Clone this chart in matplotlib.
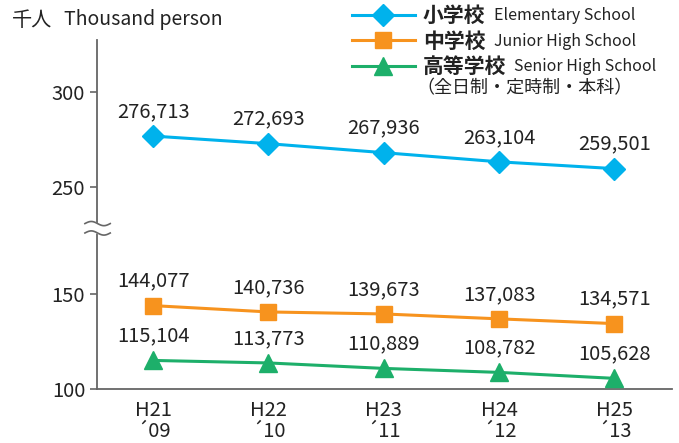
import matplotlib
matplotlib.use("Agg")
import matplotlib.pyplot as plt
import numpy as np

plt.rcParams['font.family'] = ['Noto Sans CJK JP', 'DejaVu Sans']

# data (thousand persons)
years = ['H21\n\u00b409', 'H22\n\u00b410', 'H23\n\u00b411', 'H24\n\u00b412', 'H25\n\u00b413']
elementary = [276.713, 272.693, 267.936, 263.104, 259.501]
junior = [144.077, 140.736, 139.673, 137.083, 134.571]
senior = [115.104, 113.773, 110.889, 108.782, 105.628]

names_jp = ['小学校', '中学校', '高等学校']
names_en = ['Elementary School', 'Junior High School', 'Senior High School']
colors = ['#00b2ec', '#f7931e', '#1daf6a']
markers = ['D', 's', '^']
msizes = [11, 12, 13]

# broken axis: squeeze the empty band between 180 and 226
brk_v = [0, 180, 226, 1000]
brk_t = [0, 180, 183, 957]

def fwd(v):
    return np.interp(v, brk_v, brk_t)

def inv(t):
    return np.interp(t, brk_t, brk_v)

fig = plt.figure(figsize=(6.79, 4.43), dpi=100)
ax = fig.add_axes([97/679, 1-389/443, 575/679, 349/443])
ax.set_yscale('function', functions=(fwd, inv))

x = np.arange(len(years))
series = [elementary, junior, senior]
handles = []
for vals, c, m, ms in zip(series, colors, markers, msizes):
    h, = ax.plot(x, vals, color=c, lw=2.2, marker=m, ms=ms, zorder=3)
    handles.append(h)
    for xi, v in zip(x, vals):
        ax.annotate(f'{v*1000:,.0f}', (xi, v), xytext=(0, 10), textcoords='offset points',
                    ha='center', va='bottom', fontsize=14.5, color='#222222')

ax.set_xlim(-0.487, 4.5)
ax.set_ylim(100, 327.5)
ax.set_yticks([100, 150, 250, 300])
ax.set_yticklabels(['100', '150', '250', '300'])
ax.set_xticks(x)
ax.set_xticklabels(years, linespacing=1.0)
ax.tick_params(axis='x', length=0, pad=8, labelsize=14.5, colors='#222222')
ax.tick_params(axis='y', length=5, width=1.2, color='#666666', labelsize=14.5, labelcolor='#222222')
for s in ['top', 'right']:
    ax.spines[s].set_visible(False)
for s in ['left', 'bottom']:
    ax.spines[s].set_color('#666666')
    ax.spines[s].set_linewidth(1.3)

# break mark on the y axis
wx = np.linspace(-0.021, 0.023, 40)
wave = 0.006 * np.sin((wx - wx[0]) / (wx[-1] - wx[0]) * 2 * np.pi)
y1, y2 = 0.474, 0.447
ax.fill_between(wx, y1 + wave, y2 + wave, color='white', transform=ax.transAxes,
                clip_on=False, zorder=4)
ax.plot(wx, y1 + wave, color='#666666', lw=1.2, transform=ax.transAxes, clip_on=False, zorder=5)
ax.plot(wx, y2 + wave, color='#666666', lw=1.2, transform=ax.transAxes, clip_on=False, zorder=5)

fig.text(12/679, 1-20/443, '千人', fontsize=14.5, color='#222222', va='center', ha='left')
fig.text(64/679, 1-20/443, 'Thousand person', fontsize=14, color='#222222', va='center', ha='left')

leg = fig.legend(handles, names_jp, loc='upper left', bbox_to_anchor=(350/679, 1-3/443),
                 frameon=False, handlelength=3.0, handletextpad=0.4, labelspacing=0.22,
                 prop={'size': 15, 'weight': 'bold'}, borderaxespad=0, borderpad=0.1)
for t in leg.get_texts():
    t.set_color('#222222')

fig.canvas.draw()
r = fig.canvas.get_renderer()
inv_fig = fig.transFigure.inverted()
for t, en in zip(leg.get_texts(), names_en):
    bb = t.get_window_extent(r)
    x0, yc = inv_fig.transform((bb.x1 + 8, (bb.y0 + bb.y1) / 2))
    fig.text(x0, yc, en, fontsize=11.5, color='#222222', va='center', ha='left')
bb = leg.get_texts()[2].get_window_extent(r)
x0, y0 = inv_fig.transform((bb.x0 - 6, bb.y0 - 2))
fig.text(x0, y0, '（全日制・定時制・本科）', fontsize=13, color='#222222', va='top', ha='left')

fig.savefig('out.png', dpi=100)
